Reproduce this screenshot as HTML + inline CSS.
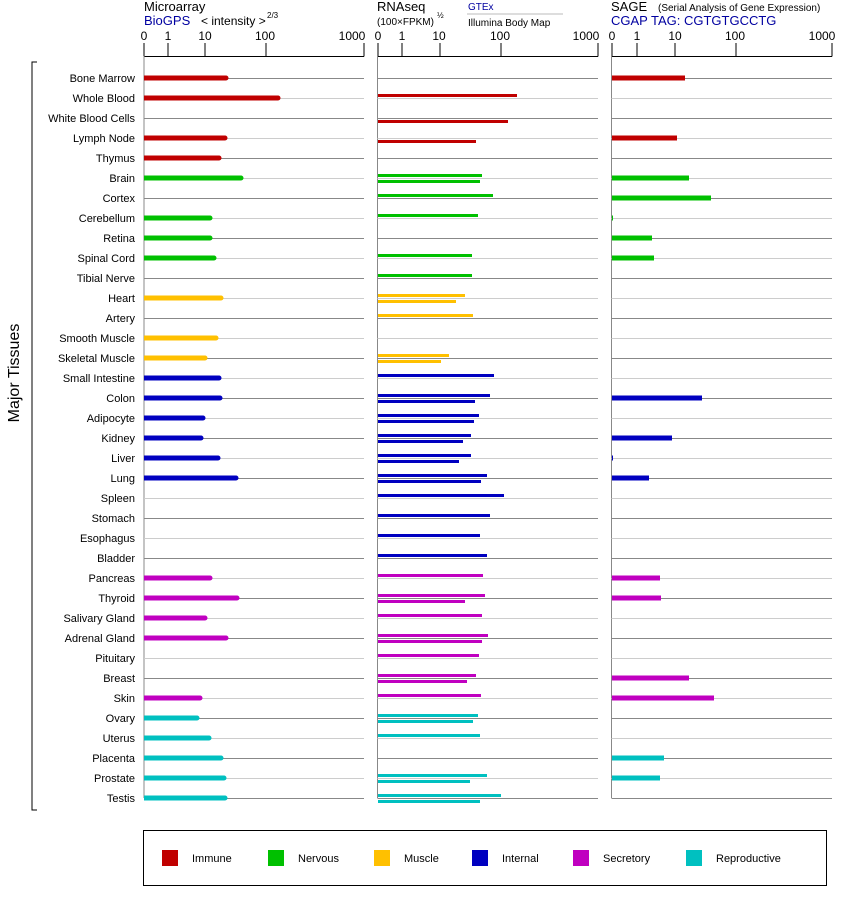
<!DOCTYPE html>
<html><head><meta charset="utf-8"><style>
body{margin:0;background:#fff;}
svg{display:block;font-family:"Liberation Sans",Arial,sans-serif;}
</style></head><body>
<svg id="s" width="842" height="900" xmlns="http://www.w3.org/2000/svg">
<g font-size="13" fill="#000">
<text x="144" y="11">Microarray</text>
<text x="144" y="25" fill="#0000a0">BioGPS</text>
<text x="201" y="25" font-size="12">&lt; intensity &gt;</text>
<text x="267" y="18" font-size="8">2/3</text>
<text x="377" y="11">RNAseq</text>
<text x="377" y="25" font-size="10">(100×FPKM)</text>
<text x="437" y="18" font-size="8">½</text>
<text x="468" y="10" font-size="10" fill="#0000a0">GTEx</text>
<line x1="467" y1="14" x2="563" y2="14" stroke="#bbb"/>
<text x="468" y="26" font-size="10">Illumina Body Map</text>
<text x="611" y="11">SAGE</text>
<text x="658" y="11" font-size="10">(Serial Analysis of Gene Expression)</text>
<text x="611" y="25" fill="#0000a0">CGAP TAG: CGTGTGCCTG</text>
</g>
<g font-size="12" text-anchor="middle">
<text x="144" y="40">0</text><text x="168" y="40">1</text><text x="205" y="40">10</text><text x="265" y="40">100</text><text x="352" y="40">1000</text>
<text x="378" y="40">0</text><text x="402" y="40">1</text><text x="439" y="40">10</text><text x="500" y="40">100</text><text x="586" y="40">1000</text>
<text x="612" y="40">0</text><text x="637" y="40">1</text><text x="675" y="40">10</text><text x="735" y="40">100</text><text x="822" y="40">1000</text>
</g>
<g font-size="11" text-anchor="end">
<text x="135" y="82">Bone Marrow</text><text x="135" y="102">Whole Blood</text><text x="135" y="122">White Blood Cells</text><text x="135" y="142">Lymph Node</text><text x="135" y="162">Thymus</text><text x="135" y="182">Brain</text><text x="135" y="202">Cortex</text><text x="135" y="222">Cerebellum</text><text x="135" y="242">Retina</text><text x="135" y="262">Spinal Cord</text><text x="135" y="282">Tibial Nerve</text><text x="135" y="302">Heart</text><text x="135" y="322">Artery</text><text x="135" y="342">Smooth Muscle</text><text x="135" y="362">Skeletal Muscle</text><text x="135" y="382">Small Intestine</text><text x="135" y="402">Colon</text><text x="135" y="422">Adipocyte</text><text x="135" y="442">Kidney</text><text x="135" y="462">Liver</text><text x="135" y="482">Lung</text><text x="135" y="502">Spleen</text><text x="135" y="522">Stomach</text><text x="135" y="542">Esophagus</text><text x="135" y="562">Bladder</text><text x="135" y="582">Pancreas</text><text x="135" y="602">Thyroid</text><text x="135" y="622">Salivary Gland</text><text x="135" y="642">Adrenal Gland</text><text x="135" y="662">Pituitary</text><text x="135" y="682">Breast</text><text x="135" y="702">Skin</text><text x="135" y="722">Ovary</text><text x="135" y="742">Uterus</text><text x="135" y="762">Placenta</text><text x="135" y="782">Prostate</text><text x="135" y="802">Testis</text>
</g>
<text x="19" y="373" font-size="16" text-anchor="middle" transform="rotate(-90 19 373)">Major Tissues</text>
<path d="M37 62H32V810H37" fill="none" stroke="#000"/>
<rect x="143.5" y="830.5" width="683" height="55" fill="none" stroke="#000"/>
<g font-size="11">
<rect x="162" y="850" width="16" height="16" fill="#c00000"/><text x="192" y="862">Immune</text>
<rect x="268" y="850" width="16" height="16" fill="#00c000"/><text x="298" y="862">Nervous</text>
<rect x="374" y="850" width="16" height="16" fill="#ffc000"/><text x="404" y="862">Muscle</text>
<rect x="472" y="850" width="16" height="16" fill="#0000c0"/><text x="502" y="862">Internal</text>
<rect x="573" y="850" width="16" height="16" fill="#c000c0"/><text x="603" y="862">Secretory</text>
<rect x="686" y="850" width="16" height="16" fill="#00c0c0"/><text x="716" y="862">Reproductive</text>
</g>
<g id="g"></g>
</svg>
<script>
var g=document.getElementById('g'),h='';
function L(x1,y1,x2,y2,c,w){h+='<line x1="'+x1+'" y1="'+y1+'" x2="'+x2+'" y2="'+y2+'" stroke="'+c+'" stroke-width="'+(w||1)+'"/>';}
function R(x,y,x2,hh,c){if(x2>x)h+='<rect x="'+x+'" y="'+y+'" width="'+(x2-x)+'" height="'+hh+'" fill="'+c+'"/>';}
var P=[[144,364,[144,168,205,266,364]],[377.5,598,[378,402,440,501,598]],[611.5,832,[612,637,675,736,832]]];
P.forEach(function(p){L(p[0],56.5,p[1],56.5,'#000');p[2].forEach(function(t){L(t,43,t,56.5,'#000')});L(p[0],56,p[0],798,'#888');});
for(var i=0;i<37;i++){var y=78+20*i+.5;var c=i%2?'#ccc':'#888';P.forEach(function(p){L(p[0],y,p[1],y,c)});}
var C={r:'#c00000',g:'#00c000',y:'#ffc000',b:'#0000c0',m:'#c000c0',c:'#00c0c0'};
var col='rrrrrgggggg yyyybbbbbbbbbbmmmmmmmmcccccc'.replace(' ','').split('');
col=['r','r','r','r','r','g','g','g','g','g','g','y','y','y','y','b','b','b','b','b','b','b','b','b','b','m','m','m','m','m','m','m','c','c','c','c','c'];
var M=[228,280,0,227,221,243,0,212,212,216,0,223,0,218,207,221,222,205,203,220,238,0,0,0,0,212,239,207,228,0,0,202,199,211,223,226,227];
var G=[0,517,0,0,0,482,493,478,0,472,472,465,473,0,449,494,490,479,471,471,487,504,490,480,487,483,485,482,488,479,476,481,478,480,0,487,501];
var I=[0,0,508,476,0,480,0,0,0,0,0,456,0,0,441,0,475,474,463,459,481,0,0,0,0,0,465,0,482,0,467,0,473,0,0,470,480];
var S=[685,0,0,677,0,689,711,613,652,654,0,612,0,0,612,0,702,0,672,613,649,0,0,0,0,660,661,0,0,0,689,714,0,0,664,660,0];
for(var i=0;i<37;i++){var y=78+20*i,k=C[col[i]];
if(M[i]){R(144,y-2.5,M[i]-2,5,k);h+='<circle cx="'+(M[i]-2)+'" cy="'+y+'" r="2.5" fill="'+k+'"/>';}
if(G[i])R(378,y-4,G[i],3,k);
if(I[i])R(378,y+2,I[i],3,k);
if(S[i])R(612,y-2.5,S[i],5,k);}
g.innerHTML=h;
</script>
</body></html>
